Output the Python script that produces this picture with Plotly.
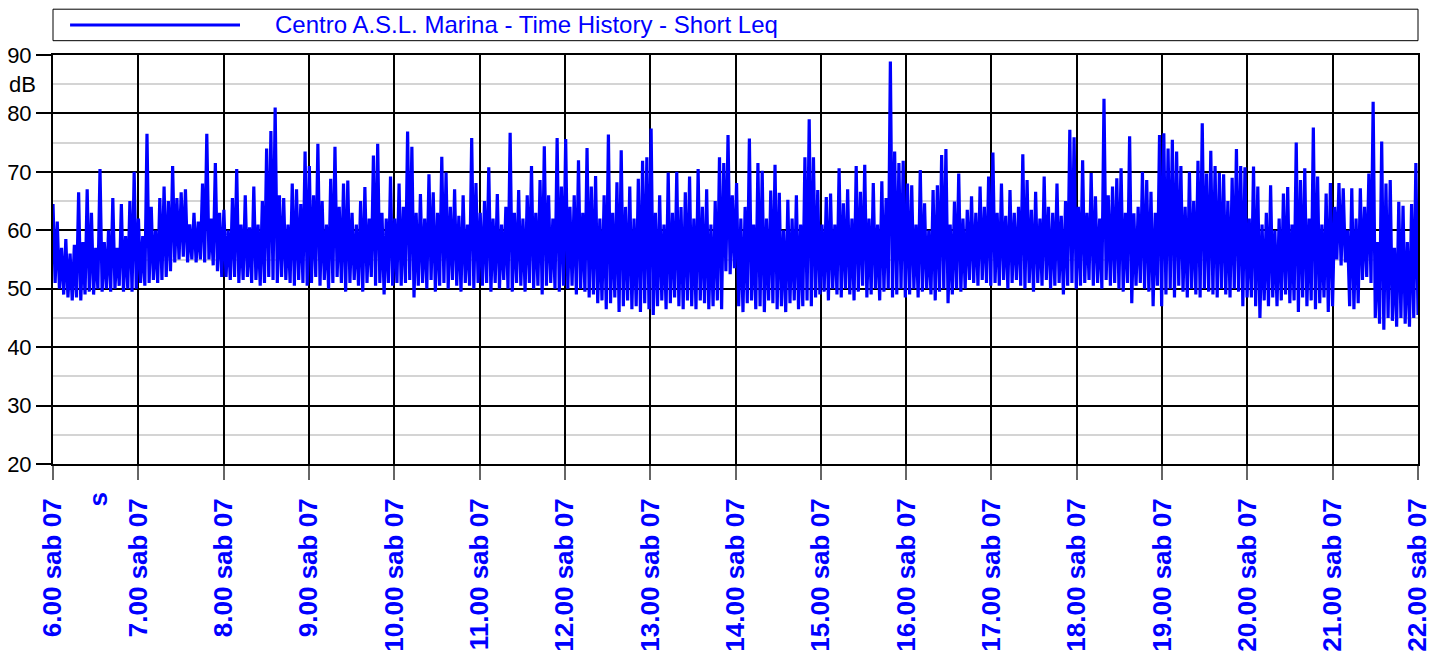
import pandas as pd
import plotly.graph_objects as go

# Centro A.S.L. Marina - Short Leq time history, sab 07, 6.00 -> 22.00
# each hour read off the printout as 20 crests + 20 troughs (dB)

crest_06 = [64.5, 61.5, 57, 58.5, 56, 57.5, 66.5, 58, 67, 63, 57, 70.5, 58, 60, 65.5, 57, 64.5, 59, 65, 70]
trough_06 = [51, 50, 49, 48.5, 48, 48.5, 48, 49, 49.5, 49, 50, 49.5, 50, 49.5, 50, 50.5, 49.5, 50, 49.5, 50]

crest_07 = [62, 59, 76.5, 64, 60, 65.5, 67.5, 65, 71, 65.5, 66.5, 67, 61, 63, 61.5, 68, 76.5, 62, 71.5, 63]
trough_07 = [51, 50.5, 51, 51.5, 51, 51.5, 52, 53, 54.5, 55, 55.5, 54.5, 55, 54.5, 55, 54.5, 55, 54, 53, 52]

crest_08 = [63.5, 60, 65.5, 70.5, 61, 66, 60.5, 67.5, 61, 65, 74, 77, 81, 66, 65.5, 61, 68, 67, 64.5, 73.5]
trough_08 = [52, 51.5, 52, 51, 51.5, 52, 51, 51.5, 50.5, 51, 52, 51.5, 51, 52, 51.5, 51, 50.5, 51.5, 51, 50.5]

crest_09 = [71, 66, 74.8, 65, 61, 68.8, 74.3, 64, 68, 68.5, 63, 61, 65, 67.4, 62, 72.8, 74.8, 63, 62, 69.2]
trough_09 = [51, 52, 50.5, 51.5, 50, 51, 52, 51, 49.5, 51, 51.5, 50.5, 49.5, 51, 52, 50.5, 51, 49, 51, 50.5]

crest_10 = [62, 68, 64, 76.9, 74.3, 63, 66.2, 62, 69.6, 66.5, 63, 72.6, 69.9, 64, 67, 62.5, 66, 61, 75.8, 68.1]
trough_10 = [51, 50.5, 51, 51.5, 48.5, 50.5, 51, 50, 51.5, 49.5, 50.5, 51, 50, 51.5, 50.5, 49.5, 51, 50.5, 50, 51]

crest_11 = [63, 65, 70.8, 62, 66.2, 61, 64, 76.7, 63, 66.9, 62, 66, 71, 63, 68.6, 74.4, 66, 62, 75.8, 67.5]
trough_11 = [50.5, 51, 49.5, 51, 50, 51.5, 50, 49.5, 51, 50.5, 49.5, 51, 50, 50.5, 49, 50.5, 51, 50, 49.5, 50.5]

crest_12 = [75.6, 64, 66, 72, 63, 74.1, 67.5, 69.3, 62, 66, 76.4, 63, 68.2, 73.7, 64, 67.5, 62, 68.8, 71.9, 72.5]
trough_12 = [50, 50.5, 49, 50, 49.5, 48.5, 49, 47.5, 48, 46.5, 47.5, 48.5, 46, 47, 48, 46.5, 47, 46, 47.5, 46.5]

crest_13 = [77.4, 63, 66, 61, 69.9, 63, 70, 64, 66.5, 69.2, 62, 70.5, 64, 67, 61, 65, 72.5, 71.5, 76.3, 66]
trough_13 = [45.5, 47, 48, 46.5, 47.5, 48.5, 47, 46.5, 48, 47, 46.5, 48, 47.5, 46.5, 47, 48, 46.5, 53, 52.5, 53.5]

crest_14 = [68.1, 62, 64, 75.7, 61, 71.5, 70.2, 62, 66.8, 71.2, 66.4, 60, 65.2, 62, 66, 61, 72.5, 79, 72.5, 66.9]
trough_14 = [47, 46, 47.5, 48, 46.5, 47, 46, 48, 47.5, 46.5, 47, 46, 47.5, 48, 46.5, 47, 48, 47, 48.5, 49]

crest_15 = [61, 65.7, 66.3, 61, 70.6, 64.6, 67, 62, 71, 66.6, 71.2, 62, 68.1, 61, 68.4, 65.5, 88.9, 73.5, 71.5, 71.9]
trough_15 = [49.5, 48, 50, 49, 48.5, 50, 49, 48, 49.5, 50.5, 48.5, 49, 50, 48, 49.5, 50, 48.5, 49, 50, 48.5]

crest_16 = [68, 67.7, 61, 70.3, 64.6, 60, 66.9, 67.7, 72.9, 73.9, 61, 64.9, 69.7, 62, 63.5, 65.8, 63, 67.5, 64, 69.2]
trough_16 = [49, 50, 48.5, 49.5, 50, 49, 48, 49.5, 50, 47.5, 49, 50, 49.5, 50, 51.5, 51, 50.5, 51.5, 51, 50.5]

crest_17 = [73.3, 63, 68, 62.5, 66.9, 63, 64, 73, 68.6, 63.5, 66.6, 62, 69.2, 64, 63, 68, 62.5, 65, 77.2, 75.9]
trough_17 = [51, 50.5, 51.5, 50, 51, 51.5, 50.5, 50, 51, 49.5, 51, 50.5, 51.5, 50, 50.5, 51, 49, 50.5, 51, 50]

crest_18 = [64, 72, 63, 69.8, 65.8, 62, 82.5, 66, 67.5, 68.9, 70.6, 63, 76.1, 62.9, 64, 70, 68.6, 66.6, 63, 76.3]
trough_18 = [50.5, 51, 51.5, 50.5, 51, 50, 51.5, 50.5, 51, 50, 49.5, 51, 47.5, 50.5, 51, 50, 49.5, 47, 50.5, 47]

crest_19 = [76.6, 74, 75.5, 73.5, 71, 64, 70, 65, 71.9, 78.3, 69.7, 73.6, 71, 69.8, 69.6, 65, 69, 73.9, 71, 70.8]
trough_19 = [49, 50, 48.5, 50.5, 49.5, 48.5, 50, 49, 48.5, 50, 49.5, 49, 48.5, 50, 49, 48.5, 50, 49.5, 47, 48.5]

crest_20 = [62, 70.9, 67.5, 61, 63, 67.7, 60, 62, 66.3, 67.4, 61, 75, 68.6, 70.6, 62, 77.6, 69.2, 61, 66.3, 68.1]
trough_20 = [48.5, 47, 45, 48, 47, 48.5, 47, 48, 49, 47.5, 48, 46, 48.5, 47, 48, 46.5, 47.5, 48.5, 46, 47]

crest_21 = [64, 68.1, 67.2, 60, 67.2, 62, 67.2, 64, 69.7, 82, 58, 75.2, 68, 68.6, 57, 64.9, 64.2, 58, 64.5, 71.5]
trough_21 = [55, 54, 54.5, 47, 46.5, 47.5, 51.5, 52, 51, 45, 44, 43, 45, 44.5, 43.5, 45, 44, 43.5, 45, 45.5]

tick_text = ["6.00 sab 07", "7.00 sab 07", "8.00 sab 07", "9.00 sab 07", "10.00 sab 07",
             "11.00 sab 07", "12.00 sab 07", "13.00 sab 07", "14.00 sab 07", "15.00 sab 07",
             "16.00 sab 07", "17.00 sab 07", "18.00 sab 07", "19.00 sab 07", "20.00 sab 07",
             "21.00 sab 07", "22.00 sab 07"]

series_name = "Centro A.S.L. Marina - Time History - Short Leq"

hours = [
    (crest_06, trough_06), (crest_07, trough_07), (crest_08, trough_08), (crest_09, trough_09),
    (crest_10, trough_10), (crest_11, trough_11), (crest_12, trough_12), (crest_13, trough_13),
    (crest_14, trough_14), (crest_15, trough_15), (crest_16, trough_16), (crest_17, trough_17),
    (crest_18, trough_18), (crest_19, trough_19), (crest_20, trough_20), (crest_21, trough_21),
]

leq = []
for crests, troughs in hours:
    for c, t in zip(crests, troughs):
        leq.append(c)
        leq.append(t)

start = "2007-07-07 06:00"
end = "2007-07-07 22:00"
times = pd.date_range(start, end, periods=len(leq))
hour_ticks = pd.date_range(start, end, freq="h")

BLUE = "#0000ff"
FONT = "Liberation Sans, Arial, sans-serif"

fig = go.Figure()
fig.add_trace(go.Scatter(x=times, y=leq, mode="lines", name=series_name,
                         line=dict(color=BLUE, width=3.2, simplify=False),
                         showlegend=False))

# the page body adds an 8px margin, so the figure is a bit smaller than the window
fig.update_layout(
    width=1434, height=647,
    margin=dict(l=45, r=24, t=47, b=191),
    paper_bgcolor="white", plot_bgcolor="white",
    font=dict(family=FONT, color="black"),
    xaxis=dict(
        type="date", range=[start, end], automargin=False,
        tickvals=hour_ticks, ticktext=tick_text, tickangle=-90,
        tickfont=dict(size=26, color=BLUE, weight="bold"),
        ticks="outside", ticklen=14, tickwidth=2, tickcolor="#666666",
        ticklabelstandoff=8,
        showgrid=True, gridcolor="black", gridwidth=2,
        showline=True, linecolor="black", linewidth=2, mirror=True,
        zeroline=False,
    ),
    yaxis=dict(
        range=[20, 90], tickvals=[20, 30, 40, 50, 60, 70, 80, 90], automargin=False,
        tickfont=dict(size=22, color="black"),
        ticks="outside", ticklen=15, tickwidth=1.5, tickcolor="black",
        showgrid=True, gridcolor="black", gridwidth=2,
        minor=dict(tickvals=[25, 35, 45, 55, 65, 75, 85], showgrid=True,
                   gridcolor="#d4d4d4", gridwidth=2, ticks=""),
        showline=True, linecolor="black", linewidth=2, mirror=True,
        zeroline=False,
    ),
)

# legend drawn as a long box across the top, like the original printout
fig.add_shape(type="rect", xref="paper", yref="paper", x0=0, x1=1, y0=1.035, y1=1.112,
              line=dict(color="black", width=1), fillcolor="white")
fig.add_shape(type="line", xref="paper", yref="paper", x0=0.0125, x1=0.137, y0=1.0735, y1=1.0735,
              line=dict(color=BLUE, width=3))
fig.add_annotation(text=series_name, xref="paper", yref="paper", x=0.1615, y=1.0735,
                   xanchor="left", yanchor="middle", showarrow=False,
                   font=dict(size=24, color=BLUE))

fig.add_annotation(text="dB", xref="paper", yref="y", x=0, y=85, xanchor="right",
                   xshift=-15, showarrow=False, font=dict(size=22, color="black"))
fig.add_annotation(text="s", xref="paper", yref="paper", x=0.0333, y=-0.0856,
                   xanchor="center", yanchor="middle", textangle=-90, showarrow=False,
                   font=dict(size=26, color=BLUE, weight="bold"))

fig.write_html("out.html")
